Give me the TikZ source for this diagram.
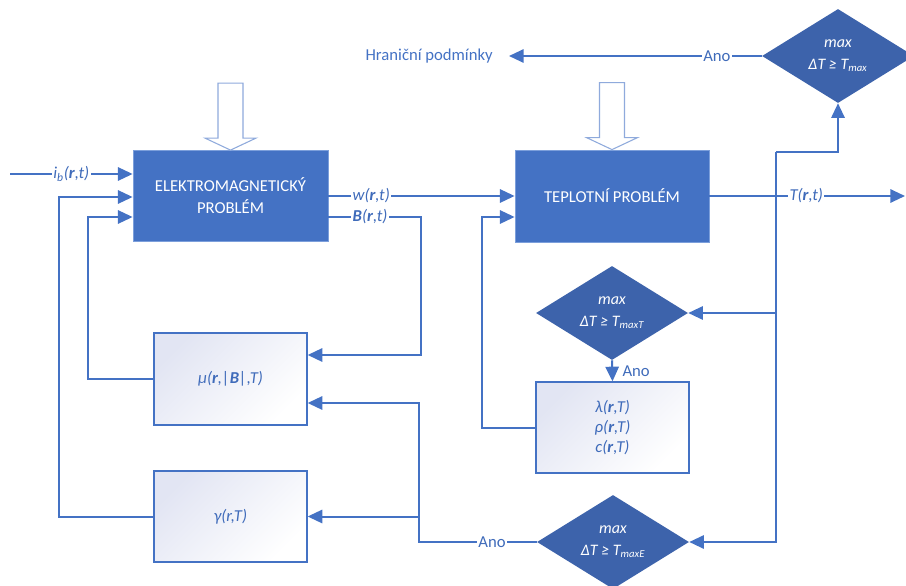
\documentclass[tikz,border=0pt]{standalone}
\usepackage{fontspec}
\setmainfont{Carlito}
\usetikzlibrary{arrows.meta,shapes.geometric,calc}
\definecolor{ln}{HTML}{4472C4}
\definecolor{lbl}{HTML}{3F6BBA}
\definecolor{boxblue}{HTML}{4472C4}
\definecolor{boxedge}{HTML}{7C9FDB}
\definecolor{diablue}{HTML}{3D63AB}
\definecolor{lav}{HTML}{E2E5F3}
\definecolor{holc}{HTML}{8FAADC}
\begin{document}
\begin{tikzpicture}[x=0.75pt,y=-0.75pt,
  bigbox/.style={fill=boxblue, draw=boxedge, line width=0.6pt, text=white,
    font=\fontsize{12.5}{16.5}\selectfont, align=center, inner sep=0pt},
  litebox/.style={draw=ln, line width=1pt, top color=lav, bottom color=white,
    shading angle=45, text=lbl, font=\fontsize{12.5}{15}\selectfont\itshape,
    align=center, inner sep=0pt, minimum width={153*0.75pt}, minimum height={91*0.75pt}},
  dia/.style={diamond, aspect=1.6, fill=diablue, draw=none, inner sep=0pt, text=white,
    font=\fontsize{12}{16}\selectfont\itshape, align=center,
    minimum width={152*0.75pt}, minimum height={94*0.75pt}},
  conn/.style={draw=ln, line width=1.5pt},
  arr/.style={conn, -{Triangle[length=11pt,width=10pt]}},
  lab/.style={fill=white, text=lbl, font=\fontsize{12.5}{14}\selectfont\itshape, inner sep=1pt},
  ano/.style={lab, font=\fontsize{12.5}{14}\selectfont\upshape},
  hol/.style={draw=holc, fill=white, line width=0.8pt}
]
\useasboundingbox (0,0) rectangle (906,585);

% blocks
\node[bigbox, minimum width={195*0.75pt}, minimum height={91*0.75pt}] (em) at (230.5,196) {ELEKTROMAGNETICKÝ\\PROBLÉM};
\node[bigbox, minimum width={194*0.75pt}, minimum height={92*0.75pt}] (th) at (612,196) {TEPLOTNÍ PROBLÉM};
\node[litebox, minimum height={92*0.75pt}] (mu) at (230.5,379) {μ(\textbf{r},|\textbf{B}|,T)};
\node[litebox] (ga) at (230.5,516.5) {γ(r,T)};
\node[litebox] (pr) at (612.5,427.5) {λ(\textbf{r},T)\\ρ(\textbf{r},T)\\c(\textbf{r},T)};
\node[dia] (d1) at (838,56) {max\\ΔT ≥ T\textsubscript{max}};
\node[dia] (d2) at (612,313) {max\\ΔT ≥ T\textsubscript{maxT}};
\node[dia] (d3) at (613,542) {max\\ΔT ≥ T\textsubscript{maxE}};
\node[text=ln, font=\fontsize{12.5}{14}\selectfont, anchor=east, inner sep=0pt] (hp) at (493,56) {Hraniční podmínky};

% hollow arrows
\draw[hol] ($(em.north)+(-12.5,-67)$) -- ++(25,0) -- ++(0,55) -- ++(13,0) -- (em.north)
  -- ($(em.north)+(-25.5,-12)$) -- ++(13,0) -- cycle;
\draw[hol] ($(th.north)+(-12.5,-67)$) -- ++(25,0) -- ++(0,55) -- ++(13,0) -- (th.north)
  -- ($(th.north)+(-25.5,-12)$) -- ++(13,0) -- cycle;

% coordinates
\coordinate (in) at (10,174);
\coordinate (bo) at ($(em.east)+(0,21)$);
\coordinate (bx) at (421,217);
\coordinate (jx) at (419,542);
\coordinate (fb1) at (88,217);
\coordinate (fb2) at (59,197);
\coordinate (fb3) at (482,217);
\coordinate (out) at (905,196);
\coordinate (tk) at (776,152);

% connectors
\draw[arr] (in) -- node[lab, pos=0.5]{\textit{i}\textsubscript{\textit{b}}(\textbf{r},t)} (in -| em.west);
\draw[arr] (em.east) -- node[lab, pos=0.23]{w(\textbf{r},t)} (th.west);
\draw[arr] (bo) -- node[lab, pos=0.45]{\textbf{B}(\textbf{r},t)} (bx) |- ($(mu.east)+(0,-24)$);
\draw[arr] (d3.west) -- node[ano, pos=0.38]{Ano} (jx) |- ($(mu.east)+(0,24)$);
\draw[arr] (ga.east -| jx) -- (ga.east);
\draw[arr] (mu.west) -| (fb1) -- (fb1 -| em.west);
\draw[arr] (ga.west) -| (fb2) -- (fb2 -| em.west);
\draw[arr] (pr.west) -| (fb3) -- (fb3 -| th.west);
\draw[arr] (d2.south) -- node[ano, fill=none, anchor=west, xshift=6pt]{Ano} (pr.north);
\draw[arr] (tk) -| (d1.south);
\draw[arr] (tk) |- (d3.east);
\draw[arr] (tk |- d2.east) -- (d2.east);
\draw[arr] (th.east) -- node[lab, pos=0.495]{T(\textbf{r},t)} (out);
\draw[arr, shorten >=12pt] (d1.west) -- node[ano, pos=0.167]{Ano} (hp.east);
\end{tikzpicture}
\end{document}
